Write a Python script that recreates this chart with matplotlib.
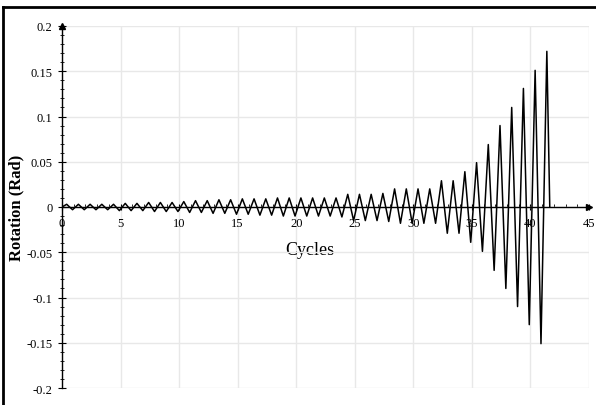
import numpy as np
from matplotlib import pyplot as plt
from matplotlib.lines import Line2D
from matplotlib.ticker import MultipleLocator, FuncFormatter

plt.rcParams['font.family'] = ['Liberation Serif', 'DejaVu Serif']
plt.rcParams['axes.unicode_minus'] = False

# peak rotation (rad) reached in each cycle, positive then negative half
pos_peaks = [0.003, 0.003, 0.003, 0.003, 0.003, 0.004, 0.004, 0.005, 0.005, 0.005,
             0.006, 0.007, 0.007, 0.008, 0.008, 0.009, 0.009, 0.009, 0.010, 0.010,
             0.010, 0.010, 0.010, 0.010, 0.014, 0.014, 0.014, 0.015, 0.020, 0.020,
             0.020, 0.020, 0.029, 0.029, 0.039, 0.049, 0.069, 0.090, 0.110, 0.131,
             0.151, 0.172]
neg_peaks = [-0.003, -0.003, -0.003, -0.003, -0.004, -0.004, -0.004, -0.005, -0.005, -0.005,
             -0.006, -0.006, -0.007, -0.007, -0.008, -0.008, -0.009, -0.009, -0.010, -0.010,
             -0.010, -0.010, -0.010, -0.011, -0.015, -0.015, -0.015, -0.016, -0.018, -0.018,
             -0.018, -0.018, -0.029, -0.029, -0.039, -0.049, -0.070, -0.090, -0.110, -0.130,
             -0.151]

# build the cyclic history: 0 -> +peak -> -peak -> ... -> 0
x = [0.0]
y = [0.0]
for i, p in enumerate(pos_peaks):
    x.append(i + 0.4)
    y.append(p)
    if i < len(neg_peaks):
        x.append(i + 0.9)
        y.append(neg_peaks[i])
x.append(len(pos_peaks) - 1 + 0.65)
y.append(0.0)

W, H = 596, 406
fig = plt.figure(figsize=(W / 100, H / 100), dpi=100)
ax = fig.add_axes([62 / W, 1 - 389 / H, 527 / W, 362 / H])

ax.plot(x, y, color='black', lw=1.1, zorder=3)

ax.set_xlim(0, 45)
ax.set_ylim(-0.2, 0.2)
ax.xaxis.set_major_locator(MultipleLocator(5))
ax.xaxis.set_minor_locator(MultipleLocator(1))
ax.yaxis.set_major_locator(MultipleLocator(0.05))
ax.yaxis.set_minor_locator(MultipleLocator(0.01))
ax.yaxis.set_major_formatter(FuncFormatter(lambda v, _: '%g' % round(v, 3)))

ax.grid(True, which='major', color='#e8e8e8', lw=1.0, zorder=0)
ax.set_axisbelow(True)

for s in ['top', 'right']:
    ax.spines[s].set_visible(False)
ax.spines['left'].set_position(('data', 0))
ax.spines['bottom'].set_position(('data', 0))
ax.spines['left'].set_linewidth(1.0)
ax.spines['bottom'].set_linewidth(1.0)

ax.tick_params(axis='y', which='major', direction='inout', length=6, width=0.8, pad=4, labelsize=9)
ax.tick_params(axis='y', which='minor', direction='inout', length=3, width=0.6)
ax.tick_params(axis='x', which='major', direction='inout', length=5, width=0.8, pad=5, labelsize=9)
ax.tick_params(axis='x', which='minor', direction='in', length=2, width=0.6)

# arrow heads on the axes
ax.plot(45, 0, '>', color='black', ms=5, clip_on=False, zorder=4)
ax.plot(0, 0.2, '^', color='black', ms=5, clip_on=False, zorder=4)

ax.set_ylabel('Rotation (Rad)', fontsize=12, fontweight='bold')
ax.yaxis.set_label_coords(-0.072, 0.5)
ax.set_xlabel('Cycles', fontsize=13)
ax.xaxis.set_label_coords(0.47, 0.405)

# frame lines at the top and left of the picture
fig.add_artist(Line2D([3 / W, 1], [1 - 8 / H, 1 - 8 / H], color='black', lw=2))
fig.add_artist(Line2D([3 / W, 3 / W], [0, 1 - 8 / H], color='black', lw=2))

fig.savefig('out.png', dpi=100)
